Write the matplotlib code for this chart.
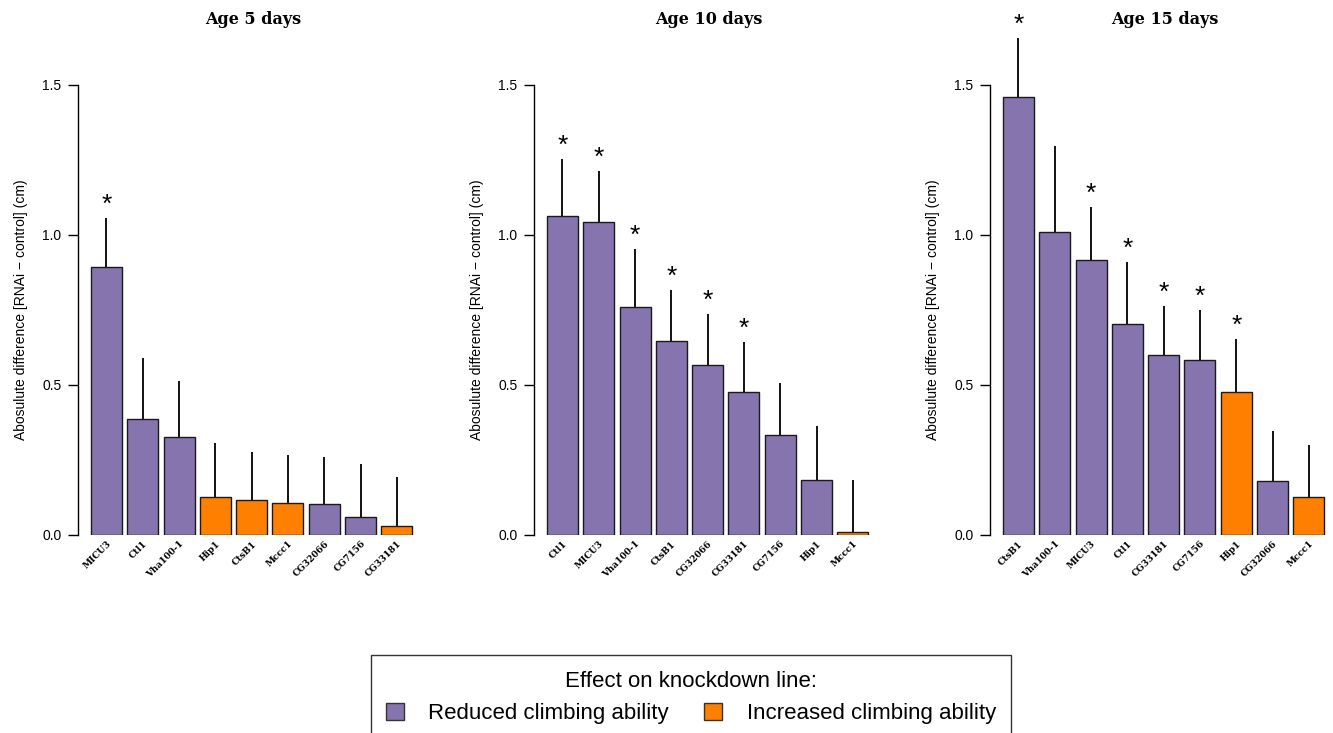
import matplotlib
matplotlib.use("Agg")
import matplotlib.pyplot as plt
from matplotlib.patches import Patch

PURPLE = "#8674AF"
ORANGE = "#FF8000"

# ---- data ----
titles = ["Age 5 days", "Age 10 days", "Age 15 days"]

genes_5 = ["MICU3", "Ctl1", "Vha100-1", "Hip1", "CtsB1", "Mccc1", "CG32066", "CG7156", "CG33181"]
vals_5 = [0.893, 0.387, 0.327, 0.127, 0.117, 0.107, 0.103, 0.060, 0.030]
err_5 = [1.057, 0.590, 0.513, 0.307, 0.277, 0.267, 0.260, 0.237, 0.193]
dir_5 = ["R", "R", "R", "I", "I", "I", "R", "R", "I"]
sig_5 = [True, False, False, False, False, False, False, False, False]

genes_10 = ["Ctl1", "MICU3", "Vha100-1", "CtsB1", "CG32066", "CG33181", "CG7156", "Hip1", "Mccc1"]
vals_10 = [1.063, 1.043, 0.760, 0.647, 0.567, 0.477, 0.333, 0.183, 0.010]
err_10 = [1.253, 1.213, 0.953, 0.817, 0.737, 0.643, 0.507, 0.363, 0.183]
dir_10 = ["R", "R", "R", "R", "R", "R", "R", "R", "I"]
sig_10 = [True, True, True, True, True, True, False, False, False]

genes_15 = ["CtsB1", "Vha100-1", "MICU3", "Ctl1", "CG33181", "CG7156", "Hip1", "CG32066", "Mccc1"]
vals_15 = [1.460, 1.010, 0.917, 0.703, 0.600, 0.583, 0.477, 0.180, 0.127]
err_15 = [1.657, 1.297, 1.093, 0.910, 0.763, 0.750, 0.653, 0.347, 0.300]
dir_15 = ["R", "R", "R", "R", "R", "R", "I", "R", "I"]
sig_15 = [True, False, True, True, True, True, True, False, False]

yticks = [0.0, 0.5, 1.0, 1.5]
ytick_labels = ["0.0", "0.5", "1.0", "1.5"]
ylabel = "Abosulute difference [RNAi \u2212 control] (cm)"
legend_title = "Effect on knockdown line:"
legend_labels = ["Reduced climbing ability", "Increased climbing ability"]

panels = [
    (genes_5, vals_5, err_5, dir_5, sig_5),
    (genes_10, vals_10, err_10, dir_10, sig_10),
    (genes_15, vals_15, err_15, dir_15, sig_15),
]

W, H = 1333, 733
fig = plt.figure(figsize=(W / 100, H / 100), dpi=100)

lefts = [78, 534, 990]
ax_w = 337
ax_top, ax_bot = 85, 535

for i, (genes, vals, errs, dirs, sigs) in enumerate(panels):
    ax = fig.add_axes([lefts[i] / W, 1 - ax_bot / H, ax_w / W, (ax_bot - ax_top) / H])
    x = list(range(len(genes)))
    colors = [PURPLE if d == "R" else ORANGE for d in dirs]
    ax.bar(x, vals, width=0.855, color=colors, edgecolor="#1a1a1a", linewidth=1.0, zorder=2)
    ax.vlines(x, vals, errs, color="black", linewidth=1.3, clip_on=False, zorder=1)
    for xi, e, s in zip(x, errs, sigs):
        if s:
            ax.text(xi, e + 0.005, "*", ha="center", va="bottom", fontsize=19,
                    family="Liberation Sans", clip_on=False)
    ax.set_xlim(-0.785, 8.5)
    ax.set_ylim(0, 1.5)
    for sp in ["top", "right", "bottom"]:
        ax.spines[sp].set_visible(False)
    ax.spines["left"].set_linewidth(1.0)
    ax.set_yticks(yticks)
    ax.set_yticklabels(ytick_labels, family="Liberation Sans", fontsize=10)
    ax.tick_params(axis="y", length=7, width=1.0, pad=5)
    ax.set_xticks(x)
    ax.set_xticklabels(genes, rotation=45, ha="right", rotation_mode="anchor",
                       family="DejaVu Serif", fontweight="bold", fontsize=6.5)
    ax.tick_params(axis="x", length=0, pad=3)
    ax.set_ylabel(ylabel, family="Liberation Sans", fontsize=10, labelpad=10)
    fig.text((lefts[i] + 175) / W, 1 - 19 / H, titles[i], ha="center", va="center",
             family="DejaVu Serif", fontweight="bold", fontsize=11.5)

handles = [Patch(facecolor=PURPLE, edgecolor="#333333"), Patch(facecolor=ORANGE, edgecolor="#333333")]
leg = fig.legend(handles, legend_labels, title=legend_title, loc="upper center",
                 bbox_to_anchor=(691 / W, 1 - 655 / H), ncol=2, frameon=True,
                 fancybox=False, edgecolor="black", prop={"family": "Liberation Sans", "size": 16},
                 title_fontproperties={"family": "Liberation Sans", "size": 16},
                 handlelength=0.8, handleheight=0.8, columnspacing=1.6, borderpad=0.7,
                 handletextpad=1.1, borderaxespad=0)
leg.get_frame().set_linewidth(1.0)

fig.savefig("out.png", dpi=100)
